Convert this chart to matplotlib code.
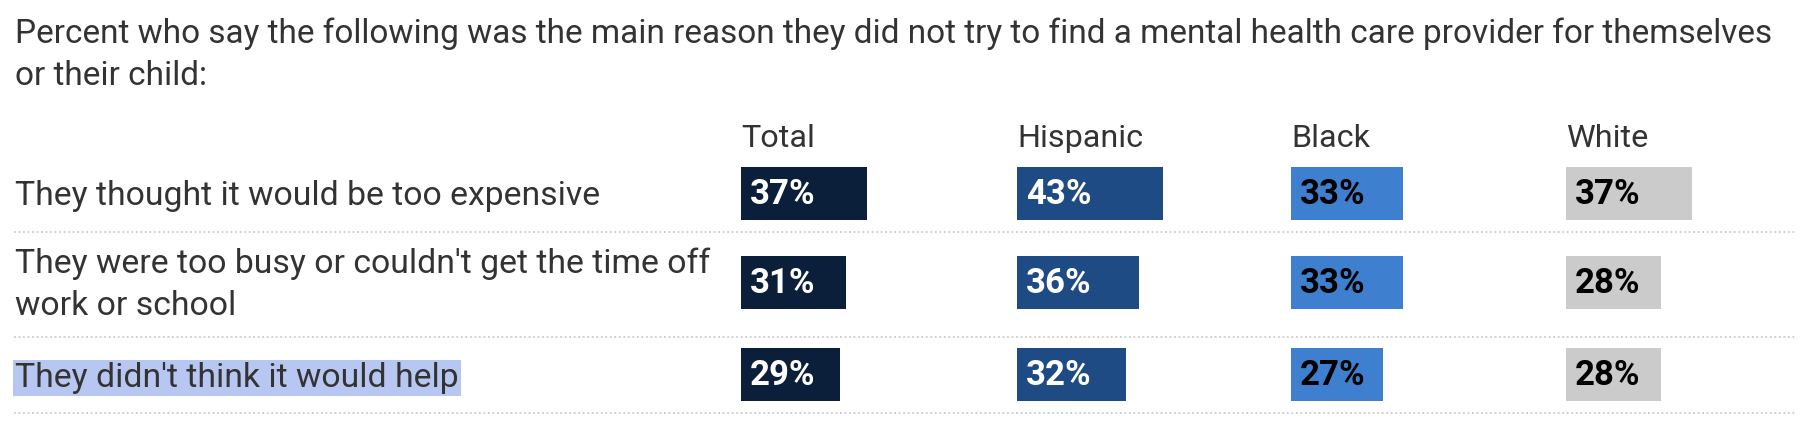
import matplotlib.pyplot as plt

# データ
title = ("Percent who say the following was the main reason they did not try to find "
         "a mental health care provider for themselves\nor their child:")
reasons = ["They thought it would be too expensive",
           "They were too busy or couldn't get the time off\nwork or school",
           "They didn't think it would help"]
groups = ["Total", "Hispanic", "Black", "White"]
values = {
    "Total":    [37, 31, 29],
    "Hispanic": [43, 36, 32],
    "Black":    [33, 33, 27],
    "White":    [37, 28, 28],
}
colors = ["#0b1f3a", "#1f4b85", "#3e80cf", "#cbcbcb"]
text_colors = ["white", "white", "black", "black"]

plt.rcParams['font.family'] = ['Roboto', 'DejaVu Sans']

W, H = 1808, 422
fig = plt.figure(figsize=(W / 100, H / 100), dpi=100)

# 全体用の軸 (ピクセル座標)
base = fig.add_axes([0, 0, 1, 1])
base.set_xlim(0, W)
base.set_ylim(H, 0)
base.axis('off')

txt = '#333333'
title_lines = title.split('\n')
for line, y in zip(title_lines, [43, 85]):
    base.text(15, y, line, fontsize=24.0, color=txt, va='baseline')

# 行ラベル (ベースライン位置)
label_lines = [[205], [273, 315], [387]]
row_y = [193, 282, 374]
sep_y = [232, 337, 413]
for i, r in enumerate(reasons):
    for line, y in zip(r.split('\n'), label_lines[i]):
        kw = {}
        if i == 2:
            kw['bbox'] = dict(facecolor='#b8c7f1', edgecolor='none', pad=1.5)
        base.text(15, y, line, fontsize=24.3, color=txt, va='baseline', **kw)
for y in sep_y:
    base.plot([14, 1795], [y, y], color='#cccccc', lw=1.3, ls=(0, (1, 1.5)))

# 列ごとの棒グラフ
col_x = [741, 1017, 1291, 1566]
col_w = 276
px_per_pct = 3.40
for j, g in enumerate(groups):
    ax = fig.add_axes([col_x[j] / W, 0, col_w / W, 1])
    ax.set_xlim(0, col_w / px_per_pct)
    ax.set_ylim(H, 0)
    ax.axis('off')
    ax.barh(row_y, values[g], height=53, color=colors[j])
    ax.text(0, 147, g, fontsize=23.3, color=txt, va='baseline')
    for y, v in zip(row_y, values[g]):
        ax.text(2.7, y + 11, f"{v}%", fontsize=25, fontweight='bold',
                color=text_colors[j], va='baseline')

fig.savefig('out.png', dpi=100)
